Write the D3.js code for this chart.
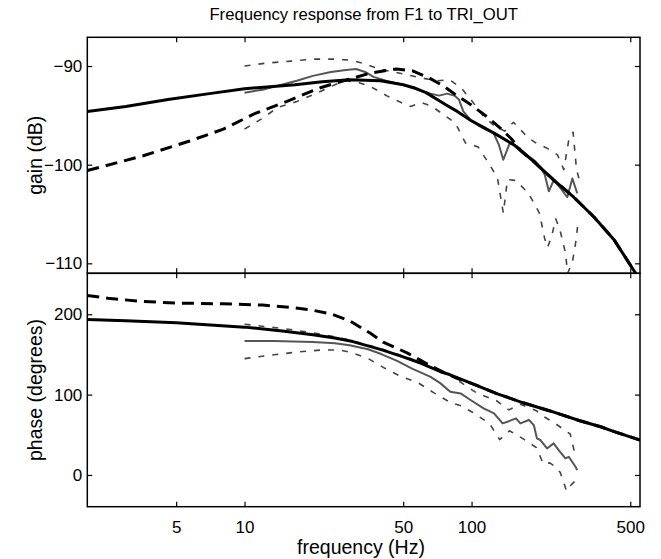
<!DOCTYPE html>
<html>
<head>
<meta charset="utf-8">
<script src="https://cdn.jsdelivr.net/npm/d3@7"></script>
<style>
  body { margin: 0; background: #fff; }
  text { font-family: "Liberation Sans", Arial, sans-serif; fill: #000; }
</style>
</head>
<body>
<div id="chart_res"></div>
<script>
// DATA
const xTicks = [5, 10, 50, 100, 500];
const gainTicks = [-110, -100, -90];
const phaseTicks = [0, 100, 200];

// gain, model (solid)
const gainFitF = [2.03, 3, 4.6, 7, 10, 16.7, 22, 29, 39.7, 50, 55.7, 63, 70.6, 78, 86.5, 99, 125.6, 153.7, 188, 231, 282, 346, 424, 528, 560];
const gainFit = [-94.6, -94.1, -93.4, -92.8, -92.3, -91.9, -91.6, -91.4, -91.5, -91.9, -92.2, -92.7, -93.4, -94.0, -94.6, -95.5, -96.8, -98.0, -99.7, -101.6, -103.3, -105.3, -107.6, -111.0, -112.2];
// gain, second model (dashed)
const gainAltF = [2.03, 3.58, 5.73, 8.07, 10.9, 15.3, 21.6, 29.2, 36.1, 46.7, 55, 65, 75, 85, 99, 117.8, 137, 150, 165, 188, 231, 282, 346, 424, 528, 560];
const gainAlt = [-100.6, -99.1, -97.6, -96.4, -94.9, -93.6, -92.2, -91.3, -90.7, -90.3, -90.5, -91.2, -92.0, -92.9, -93.9, -95.2, -96.5, -97.4, -98.6, -99.7, -101.6, -103.3, -105.3, -107.6, -111.0, -112.2];
// gain, measured mean and bounds
const gainMeasF = [10, 12, 14, 17, 20, 24, 28, 31, 34, 37, 42, 50, 58, 66, 72, 78, 84, 88, 92, 100, 112, 125, 132, 138, 148, 160, 175, 190, 200, 210, 219, 230, 245, 264, 278, 292];
const gainMeas = [-92.7, -92.4, -92.0, -91.5, -91.0, -90.6, -90.4, -90.3, -90.6, -91.1, -91.5, -91.9, -92.4, -92.8, -93.0, -92.8, -93.0, -93.4, -94.6, -95.6, -96.3, -96.8, -98.0, -99.5, -97.7, -98.2, -99.0, -99.6, -100.2, -101.0, -102.7, -101.6, -102.3, -103.3, -101.4, -102.9];
const gainHiF = [10, 12.5, 16, 20, 25, 29, 33, 38, 43, 50, 60, 70, 80, 90, 100, 112, 125, 140, 153, 165, 178, 195, 214, 239, 255, 268, 280, 290, 298];
const gainHi = [-90.0, -89.7, -89.5, -89.3, -89.3, -89.4, -89.7, -90.2, -90.5, -90.8, -91.2, -91.5, -91.4, -92.2, -93.5, -95.0, -96.0, -96.6, -95.7, -96.5, -97.3, -97.9, -98.3, -99.0, -100.5, -97.5, -96.7, -100.5, -101.5];
const gainLoF = [10, 12, 14, 17, 21, 25, 28, 32, 36, 43, 49, 54, 60, 67, 75, 85, 94, 107, 117, 130, 138, 144, 157, 178, 199, 210, 216, 225, 235, 245, 259, 265, 278, 287, 295];
const gainLo = [-96.4, -95.3, -94.2, -93.6, -92.7, -91.9, -91.5, -91.7, -92.1, -93.1, -93.7, -94.1, -93.7, -94.1, -94.9, -95.8, -97.8, -98.2, -99.6, -101.3, -104.9, -101.5, -101.6, -102.9, -104.9, -107.5, -108.4, -107.3, -105.5, -106.6, -108.9, -111.0, -109.9, -108.0, -105.8];

// phase, model (solid) and second model (dashed)
const phaseFitF = [2.03, 3, 5, 10, 15, 20, 25, 30, 40, 50, 60, 73, 80, 100, 130, 170, 220, 300, 370, 425, 552];
const phaseFit = [193.5, 192, 189.5, 184, 179, 174.5, 170.5, 166, 156, 147, 139, 128.5, 125, 114, 101, 89.5, 80, 67.5, 60, 54, 43.5];
const phaseAltF = [2.03, 2.5, 3.5, 5, 8, 12, 16, 20, 24, 29, 36, 41, 52, 63, 76, 85, 100, 130, 170, 220, 300, 370, 425, 552];
const phaseAlt = [223.5, 220, 216, 214, 213, 211.5, 208.5, 205, 200.5, 192, 176, 165, 152, 139, 127, 121, 114, 101, 89.5, 80, 67.5, 60, 54, 43.5];
// phase, measured mean and bounds
const phaseMeasF = [10, 13.5, 20, 25, 29, 35, 40, 47, 55, 66, 73, 80.6, 89.5, 99, 113, 125.6, 137, 144, 157, 164, 179, 188, 194, 201, 215, 230, 242, 259, 268, 287, 292];
const phaseMeas = [166.8, 166.8, 165.6, 164, 161.4, 156.4, 150.5, 142, 132, 122, 114, 103.6, 101.5, 93.3, 82.9, 76.7, 64.2, 66.3, 70.5, 64.2, 68.4, 62.1, 45.6, 43.5, 33, 39.3, 31, 20.7, 22.6, 10.2, 6];
const phaseHiF = [10, 15, 20, 25, 30, 40, 50, 60, 70, 80, 90, 106, 128, 146, 164, 193, 207, 234, 262, 272, 284, 295];
const phaseHi = [187.6, 182, 177, 172, 167, 157, 148, 140, 132, 125, 115, 101.5, 93, 81, 88, 80, 73, 64, 54, 51, 28.5, 25];
const phaseLoF = [10, 13, 17, 22, 26, 29, 35, 41, 49, 58, 68, 81, 90, 101, 120, 133, 147, 171, 193, 207, 221, 235, 246, 262, 275, 285, 295];
const phaseLo = [144.8, 149, 153, 155.6, 155.6, 153, 145, 133.6, 122.4, 115, 102.5, 90, 86, 78, 64, 44, 55, 44, 34, 14, 15, 10, 3, -20, -12, -8, 0];

// layout
const plotL = 87.3, plotR = 640, plotT = 37.3, plotM = 273.3, plotB = 506.7;
const plotW = plotR - plotL;

const svg = d3.select("#chart_res").append("svg")
    .attr("width", 661)
    .attr("height", 559);

const x = d3.scaleLog().domain([2.03, 552]).range([0, plotW]);
const yGain = d3.scaleLinear().domain([-111.01, -87.09]).range([plotM - plotT, 0]);
const yPhase = d3.scaleLinear().domain([-39.5, 251]).range([plotB - plotM, 0]);

const zip = (f, v) => f.map((d, i) => [d, v[i]]);

function panel(py, h, y, yTicks, series, showX) {
  const g = svg.append("g").attr("transform", "translate(" + plotL + "," + py + ")");
  const id = "clip" + Math.round(py);
  g.append("clipPath").attr("id", id)
    .append("rect").attr("width", plotW).attr("height", h);

  const line = d3.line().x(d => x(d[0])).y(d => y(d[1]));
  const plot = g.append("g").attr("clip-path", "url(#" + id + ")");
  series.forEach(s => {
    plot.append("path")
      .datum(zip(s.f, s.v))
      .attr("d", line)
      .attr("fill", "none")
      .attr("stroke", s.color)
      .attr("stroke-width", s.w)
      .attr("stroke-dasharray", s.dash || null)
      .attr("stroke-linejoin", "round");
  });

  // ticks inside the box, all four sides
  const yl = g.append("g").call(d3.axisLeft(y).tickValues(yTicks).tickSize(-5).tickSizeOuter(0).tickPadding(5)
      .tickFormat(d => d < 0 ? "\u2212" + Math.abs(d) : d));
  yl.selectAll("text").style("font-size", "17px");
  g.append("g").attr("transform", "translate(" + plotW + ",0)")
    .call(d3.axisRight(y).tickValues(yTicks).tickSize(-5).tickSizeOuter(0).tickFormat(""));
  g.append("g").call(d3.axisTop(x).tickValues(xTicks).tickSize(-5).tickSizeOuter(0).tickFormat(""));
  const xb = g.append("g").attr("transform", "translate(0," + h + ")")
    .call(d3.axisBottom(x).tickValues(xTicks).tickSize(-5).tickSizeOuter(0).tickPadding(14)
      .tickFormat(showX ? d3.format("d") : ""));
  xb.selectAll("text").style("font-size", "17px");
  g.selectAll(".domain").remove();
  g.selectAll(".tick line").attr("stroke", "#000").attr("stroke-width", 1.2);

  g.append("rect").attr("width", plotW).attr("height", h)
    .attr("fill", "none").attr("stroke", "#000").attr("stroke-width", 1.5);
}

const fitStyle = { color: "#000", w: 3 };
const altStyle = { color: "#000", w: 3, dash: "12,7" };
const measStyle = { color: "#555", w: 2 };
const bndStyle = { color: "#444", w: 1.6, dash: "6,8" };

panel(plotT, plotM - plotT, yGain, gainTicks, [
  Object.assign({ f: gainHiF, v: gainHi }, bndStyle),
  Object.assign({ f: gainLoF, v: gainLo }, bndStyle),
  Object.assign({ f: gainMeasF, v: gainMeas }, measStyle),
  Object.assign({ f: gainAltF, v: gainAlt }, altStyle),
  Object.assign({ f: gainFitF, v: gainFit }, fitStyle)
], false);

panel(plotM, plotB - plotM, yPhase, phaseTicks, [
  Object.assign({ f: phaseHiF, v: phaseHi }, bndStyle),
  Object.assign({ f: phaseLoF, v: phaseLo }, bndStyle),
  Object.assign({ f: phaseMeasF, v: phaseMeas }, measStyle),
  Object.assign({ f: phaseAltF, v: phaseAlt }, altStyle),
  Object.assign({ f: phaseFitF, v: phaseFit }, fitStyle)
], true);

// titles and labels
svg.append("text").attr("x", plotL + plotW / 2).attr("y", 20)
  .attr("text-anchor", "middle").style("font-size", "16.7px")
  .text("Frequency response from F1 to TRI_OUT");
svg.append("text").attr("x", 361).attr("y", 554)
  .attr("text-anchor", "middle").style("font-size", "19.5px")
  .text("frequency (Hz)");
svg.append("text")
  .attr("transform", "translate(42," + (plotT + plotM) / 2 + ") rotate(-90)")
  .attr("text-anchor", "middle").style("font-size", "19.5px")
  .text("gain (dB)");
svg.append("text")
  .attr("transform", "translate(42," + (plotM + plotB) / 2 + ") rotate(-90)")
  .attr("text-anchor", "middle").style("font-size", "19.5px")
  .text("phase (degrees)");
</script>
</body>
</html>
